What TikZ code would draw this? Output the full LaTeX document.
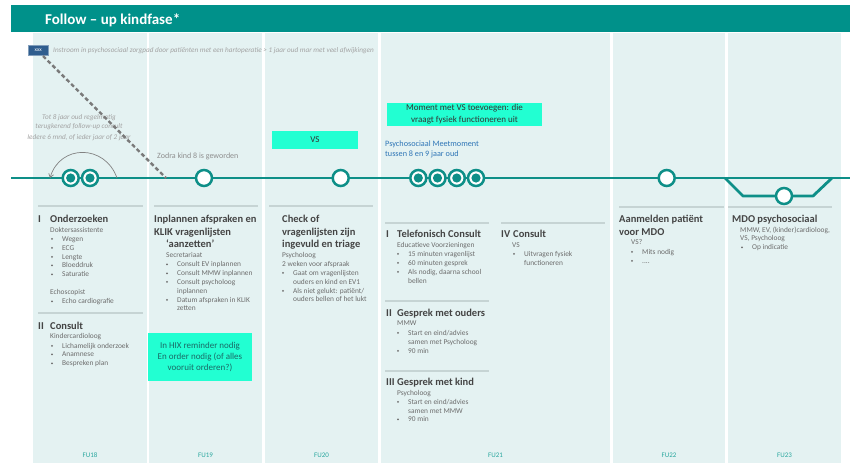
\documentclass[tikz,border=0pt]{standalone}
\usepackage{fontspec}
\setmainfont{Carlito}
\usetikzlibrary{arrows.meta}
\definecolor{hdr}{HTML}{00918A}
\definecolor{tl}{HTML}{0E8F88}
\definecolor{colbg}{HTML}{E4F2F2}
\definecolor{sepc}{HTML}{C6D4D4}
\definecolor{cyanbox}{HTML}{22FFD2}
\definecolor{ttlc}{HTML}{444444}
\definecolor{bodyc}{HTML}{6C6C6C}
\definecolor{notec}{HTML}{A3A3A3}
\definecolor{zodrac}{HTML}{8E8E8E}
\definecolor{fuc}{HTML}{2AA79F}
\definecolor{bluec}{HTML}{2E75B6}
\definecolor{xxxc}{HTML}{2F5D8E}
\definecolor{dashc}{HTML}{7A7A7A}
\definecolor{hixc}{HTML}{1A6A66}
\definecolor{boxtxt}{HTML}{333333}
\newcommand\bitem[4]{\fill[bodyc] (#2,#3-2.2) circle (1.0); \node[body] (#1) at (#2+10,#3) {#4};}
\tikzset{
  body/.style={font=\fontsize{7.4}{8.5}\selectfont, text=bodyc, inner sep=0, anchor=base west},
  ttl/.style={font=\bfseries\fontsize{10.5}{12}\selectfont, text=ttlc, inner sep=0, anchor=base west},
  note/.style={font=\itshape\fontsize{7.2}{8}\selectfont, text=notec, inner sep=0, anchor=base},
  sepline/.style={draw=sepc, line width=1.1},
  fulab/.style={font=\fontsize{7}{8}\selectfont, text=fuc, inner sep=0, anchor=base},
  cbox/.style={fill=cyanbox, inner sep=0, align=center},
  opencirc/.style={circle, draw=tl, line width=2.5, fill=white, minimum size=16, inner sep=0},
  fullcirc/.style={opencirc, path picture={\fill[tl] (path picture bounding box.center) circle (4.6);}},
}
\begin{document}
\begin{tikzpicture}[x=1pt,y=-1pt]
\useasboundingbox (0,0) rectangle (850,463);
% header
\fill[hdr] (11,5) rectangle (850,32);
\node[font=\bfseries\fontsize{15}{16}\selectfont, text=white, anchor=base west, inner sep=0] (title) at (45,24) {Follow – up kindfase*};
% columns
\foreach \a/\b in {33/147,149/262,265/378,381/610,613/725,728/841}
  \fill[colbg] (\a,33) rectangle (\b,463);
% FU labels
\node[fulab] (fu18) at (90,457) {FU18};
\node[fulab] (fu19) at (205.5,457) {FU19};
\node[fulab] (fu20) at (321.5,457) {FU20};
\node[fulab] (fu21) at (495.5,457) {FU21};
\node[fulab] (fu22) at (669,457) {FU22};
\node[fulab] (fu23) at (784.5,457) {FU23};
% timeline
\coordinate (tlstart) at (11,178);
\coordinate (tlend) at (850,178);
\coordinate (tra) at (725,178);
\coordinate (trb) at (743,196);
\coordinate (trc) at (813,196);
\coordinate (trd) at (832,178);
\draw[tl, line width=2.8] (tlstart) -- (tlend);
\draw[tl, line width=2.8, line join=round] (tra) -- (trb) -- (trc) -- (trd);
% arc
\coordinate (arcR) at (117,178);
\coordinate (arcL) at (50,178);
\draw[notec!80!black, line width=0.7, -{Straight Barb[length=3.5pt,width=5pt]}] (arcR) .. controls (105,144) and (60,144) .. (arcL);
% notes
\node[note] (n1) at (79,119) {Tot 8 jaar oud regelmatig};
\node[note] (n2) at (79,128.5) {terugkerend follow-up consult};
\node[note] (n3) at (79,139.5) {Iedere 6 mnd, of ieder jaar of 2 jaar};
\node[note, anchor=base west] (instroom) at (53,52.5) {Instroom in psychosociaal zorgpad door patiënten met een hartoperatie > 1 jaar oud mar met veel afwijkingen};
% xxx box and dashed line
\node[fill=xxxc, draw=xxxc!60!white, line width=0.4, minimum width=20, minimum height=10.5, inner sep=0, font=\fontsize{5.5}{6}\selectfont, text=white] (xxx) at (38.3,50.3) {xxx};
\coordinate (dend) at (166,178);
\draw[dashc, line width=2.4, dash pattern=on 4pt off 2.6pt] (43,56) -- (dend);
\node[font=\fontsize{8}{9}\selectfont, text=zodrac, inner sep=0, anchor=base west] (zodra) at (157,158.5) {Zodra kind 8 is geworden};
% cyan boxes
\node[cbox, minimum width=86, minimum height=18, font=\fontsize{9}{11}\selectfont, text=boxtxt] (vs) at (315,140) {VS};
\node[cbox, minimum width=155, minimum height=23, font=\fontsize{9}{11.8}\selectfont, text=boxtxt] (moment) at (464.5,114.5) {Moment met VS toevoegen: die\\vraagt fysiek functioneren uit};
\node[cbox, minimum width=104, minimum height=48, font=\fontsize{9}{11}\selectfont, text=hixc] (hix) at (200,357) {In HIX reminder nodig\\En order nodig (of alles\\vooruit orderen?)};
\node[font=\fontsize{8.2}{10}\selectfont, text=bluec, inner sep=0, anchor=base west, align=left] (psm1) at (385,146.5) {Psychosociaal Meetmoment};
\node[font=\fontsize{8.2}{10}\selectfont, text=bluec, inner sep=0, anchor=base west, align=left] (psm2) at (385,156.5) {tussen 8 en 9 jaar oud};
% circles
\node[fullcirc] (c1) at (70.7,178) {};
\node[fullcirc] (c2) at (90,178) {};
\node[opencirc] (c3) at (204,178) {};
\node[opencirc] (c4) at (340.7,178) {};
\node[fullcirc] (c5) at (418.3,178) {};
\node[fullcirc] (c6) at (437.5,178) {};
\node[fullcirc] (c7) at (456.8,178) {};
\node[fullcirc] (c8) at (476,178) {};
\node[opencirc] (c9) at (666.7,178) {};
\node[opencirc] (c10) at (784,196) {};
% separators
\draw[sepline] (38,206) -- (143,206);
\draw[sepline] (38,313) -- (143,313);
\draw[sepline] (154,206) -- (258,206);
\draw[sepline] (269,206) -- (373,206);
\draw[sepline] (385,223) -- (489,223);
\draw[sepline] (501,223) -- (605,223);
\draw[sepline] (385,301) -- (489,301);
\draw[sepline] (385,371) -- (489,371);
\draw[sepline] (619,207) -- (724,207);
\draw[sepline] (728,207) -- (832,207);
% FU18
\node[ttl] (r1) at (38,222) {I};
\node[ttl] (t1) at (50,222) {Onderzoeken};
\node[body] (w1) at (50,232) {Doktersassistente};
\bitem{b1}{52}{241}{Wegen}
\bitem{b2}{52}{250}{ECG}
\bitem{b3}{52}{259}{Lengte}
\bitem{b4}{52}{267.5}{Bloeddruk}
\bitem{b5}{52}{276.5}{Saturatie}
\node[body] (w2) at (50,294.5) {Echoscopist};
\bitem{b6}{52}{303.5}{Echo cardiografie}
\node[ttl] (r2) at (38,329) {II};
\node[ttl] (t2) at (50,329) {Consult};
\node[body] (w3) at (50,338.5) {Kindercardioloog};
\bitem{b7}{52}{348}{Lichamelijk onderzoek}
\bitem{b8}{52}{356.5}{Anamnese}
\bitem{b9}{52}{365.5}{Bespreken plan}
% FU19
\node[ttl] (t3a) at (154,222) {Inplannen afspraken en};
\node[ttl] (t3b) at (154,235) {KLIK vragenlijsten};
\node[ttl] (t3c) at (166,247) {‘aanzetten’};
\node[body] (w4) at (166,257) {Secretariaat};
\bitem{b10}{167}{266.5}{Consult EV inplannen}
\bitem{b11}{167}{275.5}{Consult MMW inplannen}
\bitem{b12}{167}{284}{Consult psycholoog}
\node[body] (b12b) at (177,293) {inplannen};
\bitem{b13}{167}{302}{Datum afspraken in KLIK}
\node[body] (b13b) at (177,310.5) {zetten};
% FU20
\node[ttl] (t4a) at (282,222) {Check of};
\node[ttl] (t4b) at (282,235) {vragenlijsten zijn};
\node[ttl] (t4c) at (282,247) {ingevuld en triage};
\node[body] (w5) at (282,257) {Psycholoog};
\node[body] (w6) at (282,266.5) {2 weken voor afspraak};
\bitem{b14}{283}{275}{Gaat om vragenlijsten}
\node[body] (b14b) at (293,284) {ouders en kind en EV1};
\bitem{b15}{283}{293}{Als niet gelukt: patiënt/}
\node[body] (b15b) at (293,301.5) {ouders bellen of het lukt};
% FU21
\node[ttl] (r3) at (386,237) {I};
\node[ttl] (t5) at (397,237) {Telefonisch Consult};
\node[body] (w7) at (397,247) {Educatieve Voorzieningen};
\bitem{b16}{398}{256}{15 minuten vragenlijst}
\bitem{b17}{398}{265}{60 minuten gesprek}
\bitem{b18}{398}{274}{Als nodig, daarna school}
\node[body] (b18b) at (408,283) {bellen};
\node[ttl] (r4) at (386,316) {II};
\node[ttl] (t6) at (397,316) {Gesprek met ouders};
\node[body] (w8) at (397,325.5) {MMW};
\bitem{b19}{398}{335}{Start en eind/advies}
\node[body] (b19b) at (408,344) {samen met Psycholoog};
\bitem{b20}{398}{353}{90 min}
\node[ttl] (r5) at (386,385) {III};
\node[ttl] (t7) at (397,385) {Gesprek met kind};
\node[body] (w9) at (397,395.5) {Psycholoog};
\bitem{b21}{398}{404}{Start en eind/advies}
\node[body] (b21b) at (408,413) {samen met MMW};
\bitem{b22}{398}{421.5}{90 min}
\node[ttl] (r6) at (501,237) {IV};
\node[ttl] (t8) at (513,237) {Consult};
\node[body] (w10) at (512,247) {VS};
\bitem{b23}{514}{256}{Uitvragen fysiek}
\node[body] (b23b) at (524,265) {functioneren};
% FU22
\node[ttl] (t9a) at (619,222) {Aanmelden patiënt};
\node[ttl] (t9b) at (619,235) {voor MDO};
\node[body] (w11) at (631,244) {VS?};
\bitem{b24}{632}{254}{Mits nodig}
\bitem{b25}{632}{263}{....}
% FU23
\node[ttl] (t10) at (732,222) {MDO psychosociaal};
\node[body] (w12) at (740,232) {MMW, EV, (kinder)cardioloog,};
\node[body] (w13) at (740,240.5) {VS, Psycholoog};
\bitem{b26}{742}{249.5}{Op indicatie}
\end{tikzpicture}
\end{document}
